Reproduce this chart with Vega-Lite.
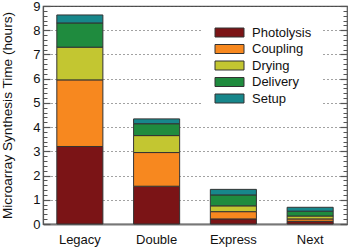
{
  "$schema": "https://vega.github.io/schema/vega-lite/v6.json",
  "width": 304,
  "height": 218,
  "autosize": {"type": "none"},
  "padding": {"left": 43, "top": 6, "right": 3, "bottom": 23},
  "config": {
    "font": "Liberation Sans",
    "view": {"stroke": "#555", "strokeWidth": 1.2},
    "axis": {"labelFont": "Liberation Sans", "titleFont": "Liberation Sans", "labelColor": "#111", "titleColor": "#111"}
  },
  "data": {
    "values": [
      {"system": "Legacy", "stage": "Photolysis", "rank": 1, "hours": 3.2},
      {"system": "Legacy", "stage": "Coupling", "rank": 2, "hours": 2.75},
      {"system": "Legacy", "stage": "Drying", "rank": 3, "hours": 1.35},
      {"system": "Legacy", "stage": "Delivery", "rank": 4, "hours": 1.0},
      {"system": "Legacy", "stage": "Setup", "rank": 5, "hours": 0.33},
      {"system": "Double", "stage": "Photolysis", "rank": 1, "hours": 1.56},
      {"system": "Double", "stage": "Coupling", "rank": 2, "hours": 1.39},
      {"system": "Double", "stage": "Drying", "rank": 3, "hours": 0.7},
      {"system": "Double", "stage": "Delivery", "rank": 4, "hours": 0.49},
      {"system": "Double", "stage": "Setup", "rank": 5, "hours": 0.2},
      {"system": "Express", "stage": "Photolysis", "rank": 1, "hours": 0.21},
      {"system": "Express", "stage": "Coupling", "rank": 2, "hours": 0.3},
      {"system": "Express", "stage": "Drying", "rank": 3, "hours": 0.24},
      {"system": "Express", "stage": "Delivery", "rank": 4, "hours": 0.45},
      {"system": "Express", "stage": "Setup", "rank": 5, "hours": 0.23},
      {"system": "Next", "stage": "Photolysis", "rank": 1, "hours": 0.11},
      {"system": "Next", "stage": "Coupling", "rank": 2, "hours": 0.1},
      {"system": "Next", "stage": "Drying", "rank": 3, "hours": 0.12},
      {"system": "Next", "stage": "Delivery", "rank": 4, "hours": 0.2},
      {"system": "Next", "stage": "Setup", "rank": 5, "hours": 0.16}
    ]
  },
  "layer": [
    {
      "mark": {"type": "bar", "stroke": "#333", "strokeWidth": 1},
      "encoding": {
        "x": {
          "field": "system", "type": "nominal",
          "sort": ["Legacy", "Double", "Express", "Next"],
          "scale": {"paddingInner": 0.4, "paddingOuter": 0.18},
          "axis": {"title": null, "labelAngle": 0, "ticks": false, "labelFontSize": 13, "labelPadding": 9, "domainColor": "#777", "domainWidth": 2}
        },
        "y": {
          "field": "hours", "type": "quantitative", "stack": "zero",
          "scale": {"domain": [0, 9], "nice": false},
          "axis": {
            "orient": "left",
            "title": "Microarray Synthesis Time (hours)",
            "titleFontSize": 13.6, "titleFontWeight": "normal", "titlePadding": 18,
            "values": [0, 1, 2, 3, 4, 5, 6, 7, 8, 9],
            "tickSize": -7, "tickColor": "#555", "tickWidth": 1.2,
            "labelFontSize": 13, "labelPadding": 10,
            "domainColor": "#555", "domainWidth": 1.2,
            "grid": true, "gridDash": [1, 3], "gridColor": "#444", "gridWidth": 1
          }
        },
        "order": {"field": "rank", "type": "quantitative", "sort": "ascending"},
        "color": {
          "field": "stage", "type": "nominal",
          "scale": {
            "domain": ["Photolysis", "Coupling", "Drying", "Delivery", "Setup"],
            "range": ["#7b1416", "#f7881f", "#c3c631", "#1f8b3e", "#17878b"]
          },
          "legend": {
            "title": null,
            "orient": "none",
            "legendX": 160,
            "legendY": 10,
            "fillColor": "white",
            "padding": 10,
            "labelFontSize": 13,
            "labelFont": "Liberation Sans",
            "labelColor": "#111",
            "symbolType": "M-2.9,-0.9H2.9V0.9H-2.9Z",
            "symbolSize": 100,
            "symbolOffset": 10,
            "symbolStrokeColor": "#333",
            "symbolStrokeWidth": 1,
            "symbolOpacity": 1,
            "rowPadding": 2.5,
            "labelOffset": 16
          }
        }
      }
    },
    {
      "mark": {"type": "rule", "opacity": 0},
      "encoding": {
        "y": {
          "field": "hours", "type": "quantitative",
          "axis": {
            "orient": "left", "title": null, "labels": false, "domain": false, "grid": false,
            "values": [0.2, 0.4, 0.6, 0.8, 1.2, 1.4, 1.6, 1.8, 2.2, 2.4, 2.6, 2.8, 3.2, 3.4, 3.6, 3.8, 4.2, 4.4, 4.6, 4.8, 5.2, 5.4, 5.6, 5.8, 6.2, 6.4, 6.6, 6.8, 7.2, 7.4, 7.6, 7.8, 8.2, 8.4, 8.6, 8.8],
            "tickSize": -4, "tickColor": "#555", "tickWidth": 1
          }
        }
      }
    },
    {
      "mark": {"type": "rule", "opacity": 0},
      "encoding": {
        "y": {
          "field": "hours", "type": "quantitative",
          "axis": {
            "orient": "right", "title": null, "labels": false, "domain": false, "grid": false,
            "values": [0, 1, 2, 3, 4, 5, 6, 7, 8, 9],
            "tickSize": -7, "tickColor": "#555", "tickWidth": 1.2
          }
        }
      }
    },
    {
      "mark": {"type": "rule", "opacity": 0},
      "encoding": {
        "y": {
          "field": "hours", "type": "quantitative",
          "axis": {
            "orient": "right", "title": null, "labels": false, "domain": false, "grid": false,
            "values": [0.2, 0.4, 0.6, 0.8, 1.2, 1.4, 1.6, 1.8, 2.2, 2.4, 2.6, 2.8, 3.2, 3.4, 3.6, 3.8, 4.2, 4.4, 4.6, 4.8, 5.2, 5.4, 5.6, 5.8, 6.2, 6.4, 6.6, 6.8, 7.2, 7.4, 7.6, 7.8, 8.2, 8.4, 8.6, 8.8],
            "tickSize": -4, "tickColor": "#555", "tickWidth": 1
          }
        }
      }
    }
  ],
  "resolve": {"axis": {"y": "independent"}}
}
